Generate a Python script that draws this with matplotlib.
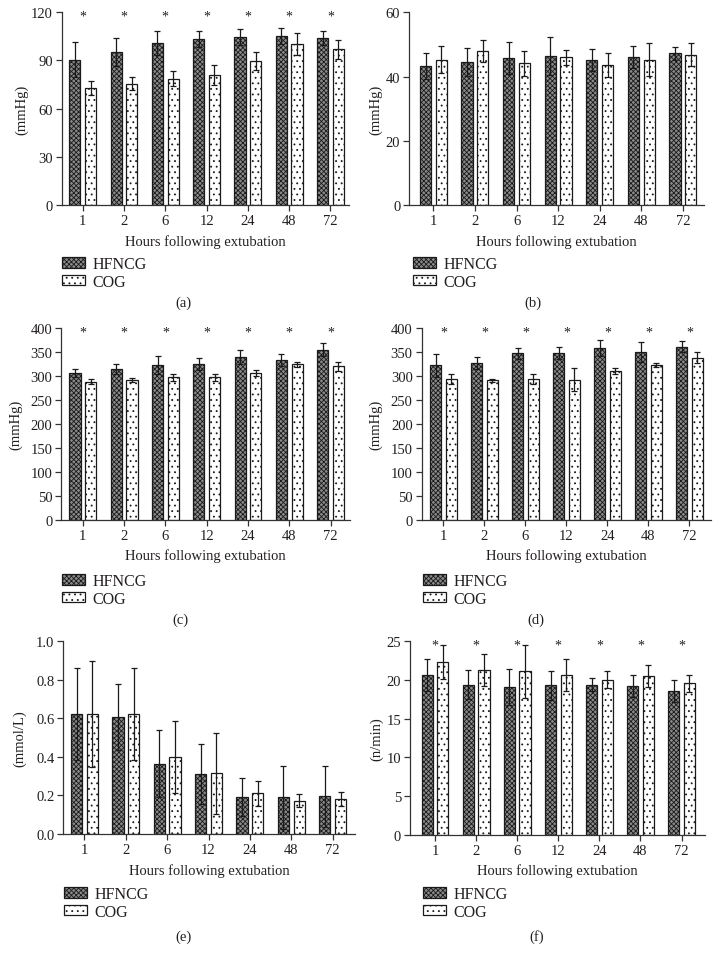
import matplotlib
matplotlib.use('Agg')
import matplotlib.pyplot as plt
import numpy as np

# ---------------- data ----------------
hours = ['1', '2', '6', '12', '24', '48', '72']
groups = ['HFNCG', 'COG']

a_hf = [90.5, 95.3, 100.9, 103.4, 104.4, 105.3, 104.0]
a_hf_err = [11.0, 8.5, 7.7, 4.8, 5.0, 4.8, 4.4]
a_cog = [72.7, 75.4, 78.5, 81.0, 89.7, 100.3, 97.0]
a_cog_err = [4.5, 4.0, 4.7, 6.0, 5.8, 7.0, 6.0]

b_hf = [43.3, 44.6, 45.7, 46.4, 45.1, 46.1, 47.2]
b_hf_err = [4.0, 4.4, 4.9, 5.8, 3.5, 3.4, 1.9]
b_cog = [45.2, 47.9, 44.1, 46.0, 43.6, 45.3, 46.8]
b_cog_err = [4.2, 3.4, 3.8, 2.4, 3.6, 5.0, 3.5]

c_hf = [306, 315, 322, 325, 339, 333, 355]
c_hf_err = [9, 10, 19, 12, 15, 12, 13]
c_cog = [288, 292, 297, 297, 306, 324, 320]
c_cog_err = [5, 4, 8, 7, 5.5, 5, 10]

d_hf = [322, 326, 347, 348, 358, 350, 361]
d_hf_err = [24, 12.5, 11, 13, 16, 20, 11]
d_cog = [294, 291, 294, 292, 311, 322, 338]
d_cog_err = [10, 3, 10, 24, 6, 4, 11]

e_hf = [0.623, 0.606, 0.365, 0.311, 0.192, 0.190, 0.195]
e_hf_err = [0.24, 0.17, 0.175, 0.154, 0.10, 0.165, 0.16]
e_cog = [0.623, 0.623, 0.400, 0.315, 0.211, 0.173, 0.180]
e_cog_err = [0.275, 0.24, 0.185, 0.21, 0.064, 0.033, 0.036]

f_hf = [20.65, 19.4, 19.1, 19.3, 19.4, 19.2, 18.6]
f_hf_err = [2.1, 1.85, 2.3, 1.9, 0.8, 1.45, 1.4]
f_cog = [22.3, 21.3, 21.1, 20.7, 20.0, 20.5, 19.6]
f_cog_err = [2.2, 2.1, 3.4, 2.06, 1.1, 1.4, 1.1]

sig_a = [1, 1, 1, 1, 1, 1, 1]
sig_b = [0, 0, 0, 0, 0, 0, 0]
sig_c = [1, 1, 1, 1, 1, 1, 1]
sig_d = [1, 1, 1, 1, 1, 1, 1]
sig_e = [0, 0, 0, 0, 0, 0, 0]
sig_f = [1, 1, 1, 1, 1, 1, 1]

ylabels = ['(mmHg)', '(mmHg)', '(mmHg)', '(mmHg)', '(mmol/L)', '(n/min)']
yticks = [[0, 30, 60, 90, 120], [0, 20, 40, 60],
          list(range(0, 401, 50)), list(range(0, 401, 50)),
          [0.0, 0.2, 0.4, 0.6, 0.8, 1.0], [0, 5, 10, 15, 20, 25]]
letters = ['(a)', '(b)', '(c)', '(d)', '(e)', '(f)']
xlabel = 'Hours following extubation'

# ---------------- style ----------------
W, H = 720, 962
plt.rcParams['font.family'] = ['Liberation Serif', 'DejaVu Serif']
plt.rcParams['hatch.linewidth'] = 0.6
TXT = '#231f20'
EDGE = '#1a1a1a'

fig = plt.figure(figsize=(W / 100, H / 100), dpi=100)

# axes boxes in pixels: left, top, right, bottom
boxes = [(61.7, 13.3, 349, 206), (409.3, 13.3, 704, 206),
         (61.3, 329, 350, 520.7), (421.7, 329, 710.7, 520.7),
         (63.3, 642.3, 355, 835), (410, 642.3, 705, 835.7)]
xlims = [(-0.51, 6.45), (-0.58, 6.51), (-0.52, 6.47), (-0.53, 6.52),
         (-0.51, 6.54), (-0.61, 6.57)]
ylab_x = [-0.117, -0.090, -0.134, -0.135, -0.125, -0.0905]
leg_pos = [(62, 257), (413, 257), (62, 574), (423, 574), (64, 887), (423, 887)]
let_pos = [(183, 303), (533, 303), (180, 620), (536, 620), (183, 937), (537, 937)]

data = [(a_hf, a_hf_err, a_cog, a_cog_err, sig_a),
        (b_hf, b_hf_err, b_cog, b_cog_err, sig_b),
        (c_hf, c_hf_err, c_cog, c_cog_err, sig_c),
        (d_hf, d_hf_err, d_cog, d_cog_err, sig_d),
        (e_hf, e_hf_err, e_cog, e_cog_err, sig_e),
        (f_hf, f_hf_err, f_cog, f_cog_err, sig_f)]

x = np.arange(len(hours))
bw = 0.27
off = 0.19
ekw = dict(ecolor=EDGE, elinewidth=0.9, capsize=2.3, capthick=0.9)

for i, (hf, hfe, cog, coge, sig) in enumerate(data):
    l, t, r, b = boxes[i]
    ax = fig.add_axes([l / W, 1 - b / H, (r - l) / W, (b - t) / H])
    ax.bar(x - off, hf, bw, yerr=hfe, facecolor='#8a8a8a', edgecolor=EDGE,
           hatch='xxxxxxx', linewidth=0.9, error_kw=ekw, label=groups[0])
    ax.bar(x + off, cog, bw, yerr=coge, facecolor='white', edgecolor=EDGE,
           hatch='...', linewidth=0.9, error_kw=ekw, label=groups[1])
    ymax = yticks[i][-1]
    ax.set_ylim(0, ymax)
    ax.set_xlim(*xlims[i])
    ax.set_yticks(yticks[i])
    if i == 4:
        ax.set_yticklabels(['%.1f' % v for v in yticks[i]])
    ax.set_xticks(x)
    ax.set_xticklabels(hours)
    for s in ['top', 'right']:
        ax.spines[s].set_visible(False)
    for s in ['left', 'bottom']:
        ax.spines[s].set_color('#333333')
        ax.spines[s].set_linewidth(0.9)
    ax.tick_params(direction='out', length=4, width=0.9, colors='#333333',
                   labelcolor=TXT, labelsize=10.5, pad=2.5)
    ax.set_xlabel(xlabel, fontsize=10.5, color=TXT, labelpad=5)
    ax.set_ylabel(ylabels[i], fontsize=10.5, color=TXT)
    ax.yaxis.set_label_coords(ylab_x[i], 0.5)
    for xi, s in zip(x, sig):
        if s:
            ax.annotate('*', (xi, ymax), xytext=(0, -3), textcoords='offset points',
                        ha='center', va='center', fontsize=10, color=TXT,
                        annotation_clip=False)
    lx, ly = leg_pos[i]
    ax.legend(loc='upper left', bbox_to_anchor=(lx / W, 1 - ly / H),
              bbox_transform=fig.transFigure, frameon=False, fontsize=11.5,
              handlelength=1.45, handleheight=0.62, handletextpad=0.45,
              labelspacing=0.12, borderpad=0, borderaxespad=0,
              labelcolor=TXT)
    px, py = let_pos[i]
    fig.text(px / W, 1 - py / H, letters[i], ha='center', va='center',
             fontsize=10.5, color=TXT)

fig.savefig('out.png', dpi=100)
